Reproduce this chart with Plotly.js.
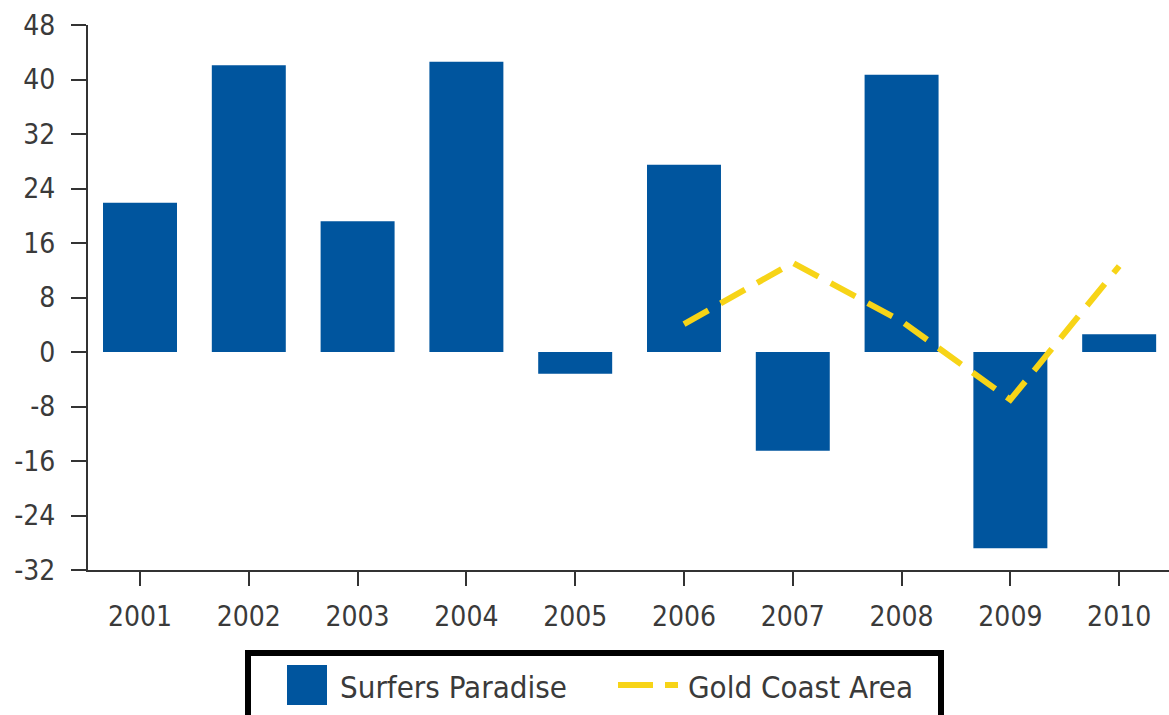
<!DOCTYPE html>
<html>
<head>
<meta charset="utf-8">
<script src="https://cdn.plot.ly/plotly-3.0.1.min.js"></script>
<style>html,body{margin:0;padding:0;background:#fff;}#chart{width:1169px;height:715px;}</style>
</head>
<body>
<div id="chart"></div>
<script>
// ---- data ----
const years = ["2001","2002","2003","2004","2005","2006","2007","2008","2009","2010"];
const surfersParadise = [21.9, 42.1, 19.2, 42.6, -3.2, 27.5, -14.5, 40.7, -28.8, 2.6];
const goldCoastYears = ["2006","2007","2008","2009","2010"];
const goldCoastArea = [4.1, 13.1, 4.5, -7.0, 12.6];
const yTickVals = [-32, -24, -16, -8, 0, 8, 16, 24, 32, 40, 48];
const seriesNames = ["Surfers Paradise", "Gold Coast Area"];

// ---- style ----
const BLUE = "#00559e";
const YELLOW = "#f7d417";
const AXIS = "#333333";
const TEXT = "#3a3a3a";
const FONT = "DejaVu Sans Condensed, Liberation Sans Narrow, DejaVu Sans, sans-serif";

const W = 1169, H = 715;
const M = {l: 88, r: 0, t: 25, b: 145};
const PW = W - M.l - M.r, PH = H - M.t - M.b;
const px = X => (X - M.l) / PW;
const py = Y => (H - M.b - Y) / PH;

const traces = [
  {
    type: "bar", x: years, y: surfersParadise, name: seriesNames[0],
    marker: {color: BLUE, line: {width: 0}}, showlegend: false,
    hoverinfo: "x+y"
  },
  {
    type: "scatter", mode: "lines", x: goldCoastYears, y: goldCoastArea, name: seriesNames[1],
    line: {color: YELLOW, width: 6, dash: "28px,14px"}, showlegend: false,
    hoverinfo: "x+y"
  }
];

const layout = {
  width: W, height: H,
  margin: M,
  paper_bgcolor: "#ffffff", plot_bgcolor: "#ffffff",
  bargap: 0.32,
  showlegend: false,
  font: {family: FONT, size: 28, color: TEXT},
  xaxis: {
    type: "category",
    range: [-0.478, 9.458],
    showline: true, linecolor: AXIS, linewidth: 2,
    ticks: "outside", ticklen: 14, tickwidth: 2, tickcolor: AXIS,
    showgrid: false, zeroline: false,
    tickfont: {family: FONT, size: 28, color: TEXT},
    ticklabelstandoff: 6,
    fixedrange: true
  },
  yaxis: {
    range: [-32, 48],
    tickvals: yTickVals,
    ticktext: yTickVals.map(v => String(v)),
    showline: true, linecolor: AXIS, linewidth: 2,
    ticks: "outside", ticklen: 15, tickwidth: 2, tickcolor: AXIS,
    showgrid: false, zeroline: false,
    tickfont: {family: FONT, size: 28, color: TEXT},
    ticklabelstandoff: 10,
    fixedrange: true
  },
  shapes: [
    {type: "rect", xref: "paper", yref: "paper", x0: px(248), x1: px(941), y0: py(653), y1: py(735),
     line: {color: "#000000", width: 6}, fillcolor: "rgba(0,0,0,0)", layer: "above"},
    {type: "rect", xref: "paper", yref: "paper", x0: px(287), x1: px(327), y0: py(665), y1: py(705),
     line: {width: 0}, fillcolor: BLUE},
    {type: "line", xref: "paper", yref: "paper", x0: px(618), x1: px(678), y0: py(685), y1: py(685),
     line: {color: YELLOW, width: 6, dash: "35px,12px"}}
  ],
  annotations: [
    {xref: "paper", yref: "paper", x: px(338), y: py(687), xanchor: "left", yanchor: "middle",
     text: seriesNames[0], showarrow: false, font: {family: FONT, size: 31, color: TEXT}},
    {xref: "paper", yref: "paper", x: px(686), y: py(687), xanchor: "left", yanchor: "middle",
     text: seriesNames[1], showarrow: false, font: {family: FONT, size: 31, color: TEXT}}
  ]
};

Plotly.newPlot("chart", traces, layout, {displayModeBar: false, staticPlot: true});
</script>
</body>
</html>
